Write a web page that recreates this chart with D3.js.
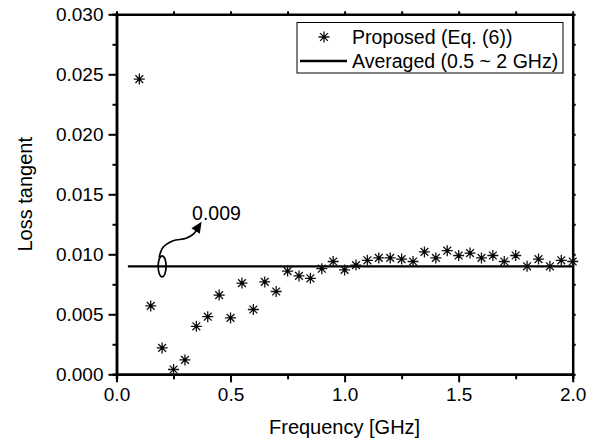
<!DOCTYPE html>
<html>
<head>
<meta charset="utf-8">
<script src="https://cdn.jsdelivr.net/npm/d3@7"></script>
<style>
  body { margin: 0; background: #fff; }
  svg { display: block; font-family: "Liberation Sans", Arial, sans-serif; }
  .axis text { font-size: 19px; fill: #000; }
  .axis path, .axis line { stroke: #000; }
</style>
</head>
<body>
<svg width="596" height="445"></svg>
<script>
// data
const freq = [0.10, 0.15, 0.20, 0.25, 0.30, 0.35, 0.40, 0.45, 0.50, 0.55,
  0.60, 0.65, 0.70, 0.75, 0.80, 0.85, 0.90, 0.95, 1.00, 1.05,
  1.10, 1.15, 1.20, 1.25, 1.30, 1.35, 1.40, 1.45, 1.50, 1.55,
  1.60, 1.65, 1.70, 1.75, 1.80, 1.85, 1.90, 1.95, 2.00];
const lossTan = [0.0246, 0.0057, 0.0022, 0.0004, 0.0012, 0.0040, 0.0048, 0.0066, 0.0047, 0.0076,
  0.0054, 0.0077, 0.0069, 0.0086, 0.0082, 0.0080, 0.0088, 0.0094, 0.0087, 0.0091,
  0.0095, 0.0097, 0.0097, 0.0096, 0.0094, 0.0102, 0.0097, 0.0103, 0.0099, 0.0101,
  0.0097, 0.0099, 0.0094, 0.0099, 0.0090, 0.0096, 0.0090, 0.0095, 0.0094];
const avgValue = 0.009;
const avgRange = [0.05, 2.0];
const xTicks = [0, 0.5, 1.0, 1.5, 2.0];
const xMinor = [0.25, 0.75, 1.25, 1.75];
const yTicks = [0, 0.005, 0.010, 0.015, 0.020, 0.025, 0.030];
const yMinor = [0.0025, 0.0075, 0.0125, 0.0175, 0.0225, 0.0275];
const legendLabels = ["Proposed (Eq. (6))", "Averaged (0.5 ~ 2 GHz)"];
const annotLabel = "0.009";

const margin = { left: 116.5, top: 14.3, right: 596 - 572.7, bottom: 445 - 374.3 };
const width = 596 - margin.left - margin.right;
const height = 445 - margin.top - margin.bottom;

const svg = d3.select("svg");
const g = svg.append("g").attr("transform", `translate(${margin.left},${margin.top})`);

const x = d3.scaleLinear().domain([0, 2]).range([0, width]);
const y = d3.scaleLinear().domain([0, 0.03]).range([height, 0]);

function drawAxis(axis, tr, cls) {
  return g.append("g").attr("class", "axis " + cls).attr("transform", tr).call(axis);
}

// bottom
drawAxis(d3.axisBottom(x).tickValues(xMinor).tickSize(5).tickFormat(""), `translate(0,${height})`, "xm");
drawAxis(d3.axisBottom(x).tickValues(xTicks).tickSize(8).tickSizeOuter(0).tickPadding(5)
  .tickFormat(d3.format(".1f")), `translate(0,${height})`, "x");
// top
drawAxis(d3.axisTop(x).tickValues(xMinor.concat(xTicks)).tickSize(3).tickSizeOuter(0).tickFormat(""), "translate(0,0)", "xt");
// left
drawAxis(d3.axisLeft(y).tickValues(yMinor).tickSize(4).tickFormat(""), "translate(0,0)", "ym");
drawAxis(d3.axisLeft(y).tickValues(yTicks).tickSize(8).tickSizeOuter(0).tickPadding(5)
  .tickFormat(d3.format(".3f")), "translate(0,0)", "y");
// right
drawAxis(d3.axisRight(y).tickValues(yMinor.concat(yTicks)).tickSize(3).tickSizeOuter(0).tickFormat(""), `translate(${width},0)`, "yr");

g.selectAll(".axis path.domain").attr("stroke-width", 2.5);
g.selectAll(".axis line").attr("stroke-width", 2);

// axis titles
svg.append("text")
  .attr("x", margin.left + width / 2).attr("y", 434)
  .attr("text-anchor", "middle").attr("font-size", 20)
  .text("Frequency [GHz]");
svg.append("text")
  .attr("transform", `translate(32,${margin.top + height / 2}) rotate(-90)`)
  .attr("text-anchor", "middle").attr("font-size", 20)
  .text("Loss tangent");

// 8-arm star marker
const star = {
  draw(ctx, size) {
    const r = Math.sqrt(size) / 2;
    const d = r * Math.SQRT1_2;
    ctx.moveTo(-r, 0); ctx.lineTo(r, 0);
    ctx.moveTo(0, -r); ctx.lineTo(0, r);
    ctx.moveTo(-d, -d); ctx.lineTo(d, d);
    ctx.moveTo(-d, d); ctx.lineTo(d, -d);
  }
};
const sym = d3.symbol().type(star).size(121);

// averaged line
g.append("line")
  .attr("x1", x(avgRange[0])).attr("x2", x(avgRange[1]))
  .attr("y1", y(avgValue)).attr("y2", y(avgValue))
  .attr("stroke", "#000").attr("stroke-width", 2.3);

// points
const pts = g.append("g").selectAll("g")
  .data(freq.map((f, i) => [f, lossTan[i]]))
  .join("g")
  .attr("transform", d => `translate(${x(d[0])},${y(d[1])})`);
pts.append("path").attr("d", sym)
  .attr("fill", "none").attr("stroke", "#111").attr("stroke-width", 1.3);
pts.append("circle").attr("r", 1.6).attr("fill", "#000");

// annotation: loop around the average line with an arrow to the label
const loopF = 0.2;
const cx = x(loopF), cy = y(avgValue);
const ann = g.append("g").attr("fill", "none").attr("stroke", "#000").attr("stroke-width", 1.7);
ann.append("ellipse").attr("cx", cx).attr("cy", cy).attr("rx", 4).attr("ry", 10.5);
const curve = [[-3, -9], [1, -19], [11, -25.5], [24, -28], [32, -33], [36, -39]];
ann.append("path")
  .attr("d", d3.line().curve(d3.curveCatmullRom)(curve.map(p => [cx + p[0], cy + p[1]])));
const tip = [cx + 39.5, cy - 44.5];
const ang = Math.atan2(-44.5 + 33, 39.5 - 32);
g.append("path")
  .attr("transform", `translate(${tip[0]},${tip[1]}) rotate(${ang * 180 / Math.PI})`)
  .attr("d", "M0,0 L-11,-5 L-11,5 Z").attr("fill", "#000");
g.append("text")
  .attr("x", cx + 30).attr("y", cy - 46)
  .attr("font-size", 19.5)
  .text(annotLabel);

// legend
const lg = svg.append("g");
lg.append("rect").attr("x", 297).attr("y", 22.5).attr("width", 266).attr("height", 50.5)
  .attr("fill", "#fff").attr("stroke", "#000").attr("stroke-width", 1);
lg.append("path").attr("transform", "translate(324,37)").attr("d", sym)
  .attr("fill", "none").attr("stroke", "#111").attr("stroke-width", 1.3);
lg.append("circle").attr("cx", 324).attr("cy", 37).attr("r", 1.6).attr("fill", "#000");
lg.append("line").attr("x1", 300).attr("x2", 347).attr("y1", 61).attr("y2", 61)
  .attr("stroke", "#000").attr("stroke-width", 2.3);
lg.selectAll("text.lab").data(legendLabels).join("text")
  .attr("class", "lab")
  .attr("x", 352).attr("y", (d, i) => 43.5 + i * 24)
  .attr("font-size", 19.5)
  .text(d => d);
</script>
</body>
</html>
